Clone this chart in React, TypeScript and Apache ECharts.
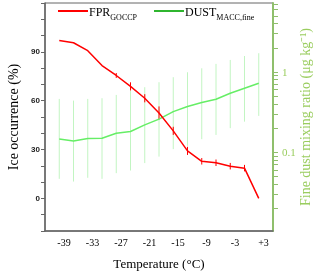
import React, { useEffect, useRef } from "react";
import * as echarts from "echarts";

const temps = [-40, -37, -34, -31, -28, -25, -22, -19, -16, -13, -10, -7, -4, -1, 2];
const fprValues = [97, 95.6, 90.7, 81.6, 75.5, 68.8, 61.5, 52.5, 41.5, 29.2, 22.8, 21.9, 19.8, 18.6, 0];
const fprErrors = [0, 0, 0, 0, 1.5, 2.5, 2.5, 4, 2.5, 2.5, 2, 2, 2, 2, 0];
const dustValues = [0.146, 0.138, 0.148, 0.149, 0.172, 0.181, 0.219, 0.258, 0.32, 0.37, 0.415, 0.457, 0.543, 0.627, 0.723];
const dustLow = [0.0465, 0.043, 0.0479, 0.0465, 0.0547, 0.059, 0.073, 0.088, 0.109, 0.12, 0.145, 0.164, 0.199, 0.24, 0.283];
const dustHigh = [0.461, 0.439, 0.461, 0.47, 0.517, 0.585, 0.645, 0.744, 0.859, 0.99, 1.11, 1.26, 1.41, 1.58, 1.71];
const xTickLabels = [-39, -33, -27, -21, -15, -9, -3, 3];
const leftLabels = [0, 30, 60, 90];
const rightLabels = [0.1, 1];
const rightTicks = [0.02, 0.03, 0.04, 0.05, 0.06, 0.07, 0.08, 0.09, 0.1, 0.2, 0.3, 0.4, 0.5, 0.6, 0.7, 0.8, 0.9, 1, 2, 3, 4, 5, 6, 7];

const SERIF = "Liberation Serif";
const GREEN_AXIS = "#8fbf6c";
const GREEN_TEXT = "#9acd5f";

export default function App() {
  const ref = useRef<HTMLDivElement>(null);
  useEffect(() => {
    if (!ref.current) return;
    const chart = echarts.init(ref.current, undefined, { renderer: "svg" });
    const errRender = (color: string) => (params: any, api: any) => {
      const x = api.value(0);
      const lo = api.value(1);
      const hi = api.value(2);
      const p1 = api.coord([x, lo]);
      const p2 = api.coord([x, hi]);
      return {
        type: "line",
        shape: { x1: p1[0], y1: p1[1], x2: p2[0], y2: p2[1] },
        style: { stroke: color, lineWidth: 1 },
      };
    };
    chart.setOption({
      animation: false,
      grid: {
        left: 45, right: 47, top: 3, bottom: 43,
        show: true, borderColor: "#666", borderWidth: 1,
        containLabel: false, outerBoundsMode: "none",
      },
      legend: {
        left: 58,
        top: 6,
        padding: 0,
        itemWidth: 30,
        itemHeight: 2,
        itemGap: 17,
        icon: "rect",
        data: [
          { name: "FPR", itemStyle: { color: "#ff0000" } },
          { name: "DUST", itemStyle: { color: "#2fb52f" } },
        ],
        formatter: (n: string) => (n === "FPR" ? "{a|FPR}{b|GOCCP}" : "{a|DUST}{b|MACC,fine}"),
        textStyle: {
          padding: [0, 0, 0, -4],
          rich: {
            a: { fontFamily: SERIF, fontSize: 12, color: "#000", verticalAlign: "bottom", lineHeight: 14 },
            b: { fontFamily: SERIF, fontSize: 8, color: "#000", verticalAlign: "bottom", lineHeight: 14, padding: [0, 0, -3, 0] },
          },
        },
      },
      xAxis: {
        type: "value",
        min: -43,
        max: 5,
        name: "Temperature (°C)",
        nameLocation: "middle",
        nameGap: 26,
        nameMoveOverlap: false,
        nameTextStyle: { fontFamily: SERIF, fontSize: 13, color: "#000" },
        axisLine: { show: true, onZero: false, lineStyle: { color: "#666", width: 1.5 } },
        axisTick: { show: false },
        splitLine: { show: false },
        axisLabel: {
          customValues: xTickLabels,
          formatter: (v: number) => (v > 0 ? "+" + v : String(v)),
          fontFamily: SERIF,
          fontSize: 10,
          color: "#000",
          margin: 6,
        },
      },
      yAxis: [
        {
          type: "value",
          min: -20,
          max: 120,
          interval: 10,
          position: "left",
          name: "Ice occurrence (%)",
          nameLocation: "middle",
          nameGap: 25,
          nameMoveOverlap: false,
          nameTextStyle: { fontFamily: SERIF, fontSize: 14, color: "#000" },
          axisLine: { show: true, onZero: false, lineStyle: { color: "#666", width: 1.5 } },
          axisTick: { show: true, length: 4, lineStyle: { color: "#666" } },
          splitLine: { show: false },
          axisLabel: {
            customValues: leftLabels,
            fontFamily: "Liberation Sans",
            fontWeight: "bold",
            fontSize: 8,
            color: "#222",
            margin: 5,
          },
        },
        {
          type: "log",
          logBase: 10,
          min: 0.0104,
          max: 7.23,
          position: "right",
          name: "Fine dust mixing ratio (μg kg⁻¹)",
          nameLocation: "middle",
          nameGap: 25,
          nameMoveOverlap: false,
          nameRotate: 90,
          nameTextStyle: { fontFamily: SERIF, fontSize: 14, color: GREEN_TEXT },
          axisLine: { show: true, onZero: false, lineStyle: { color: GREEN_AXIS, width: 2 } },
          axisTick: { show: true, length: 5, customValues: rightTicks, lineStyle: { color: GREEN_AXIS, width: 1 } },
          minorTick: { show: false },
          splitLine: { show: false },
          axisLabel: {
            customValues: rightLabels,
            formatter: (v: number) => String(v),
            fontFamily: SERIF,
            fontSize: 11,
            color: GREEN_TEXT,
            margin: 9,
          },
        },
      ],
      series: [
        {
          name: "DUSTERR",
          type: "custom",
          yAxisIndex: 1,
          renderItem: errRender("#c2f5c2"),
          data: temps.map((t, i) => [t, dustLow[i], dustHigh[i]]),
          silent: true,
        },
        {
          name: "DUST",
          type: "line",
          yAxisIndex: 1,
          showSymbol: false,
          data: temps.map((t, i) => [t, dustValues[i]]),
          lineStyle: { color: "#66ee66", width: 1.5 },
          itemStyle: { color: "#2fb52f" },
        },
        {
          name: "FPRERR",
          type: "custom",
          yAxisIndex: 0,
          renderItem: errRender("#ff0000"),
          data: temps.map((t, i) => [t, fprValues[i] - fprErrors[i], fprValues[i] + fprErrors[i]]),
          silent: true,
        },
        {
          name: "FPR",
          type: "line",
          yAxisIndex: 0,
          showSymbol: false,
          data: temps.map((t, i) => [t, fprValues[i]]),
          lineStyle: { color: "#ff0000", width: 1.5 },
          itemStyle: { color: "#ff0000" },
        },
      ],
    });
    return () => chart.dispose();
  }, []);
  return <div ref={ref} style={{ position: "fixed", left: 0, top: 0, width: 320, height: 274 }} />;
}
